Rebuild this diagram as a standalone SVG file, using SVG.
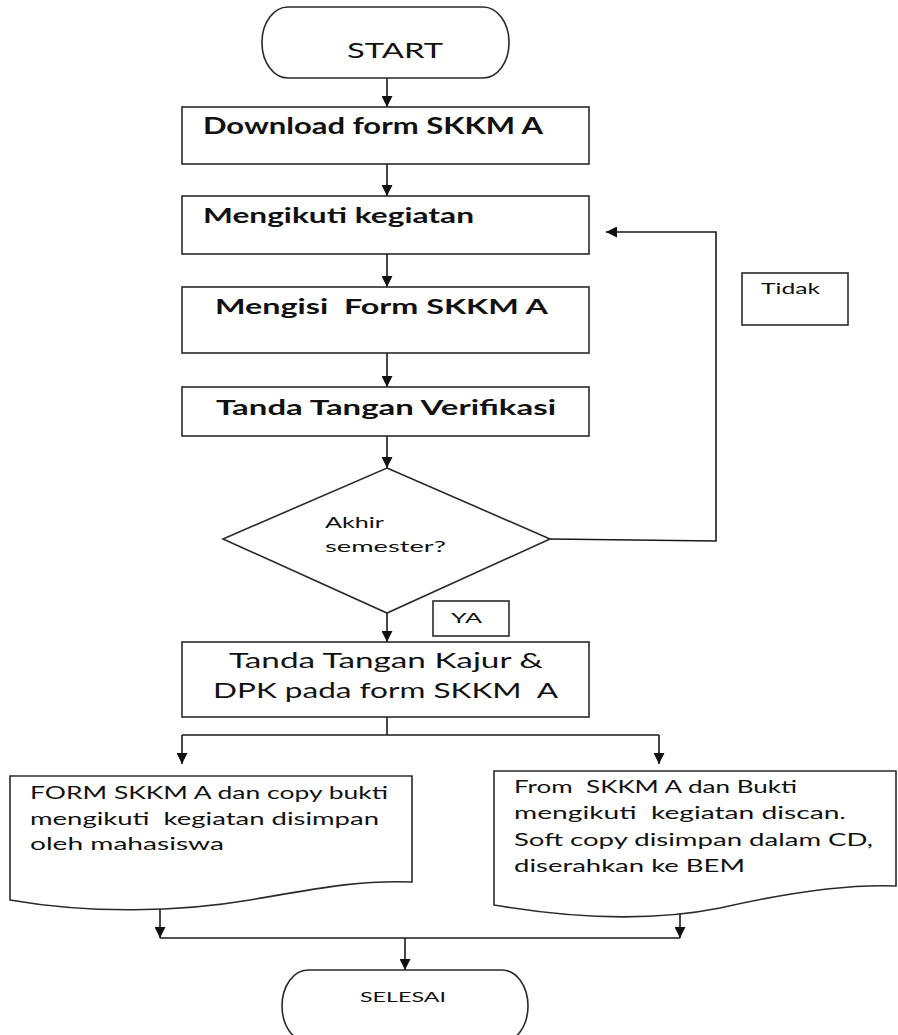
<svg xmlns="http://www.w3.org/2000/svg" width="898" height="1035" viewBox="0 0 898 1035">
<style>
.s{fill:#fff;stroke:#2a2a2a;stroke-width:1.6}
.c{fill:none;stroke:#1a1a1a;stroke-width:1.6}
.b{font-family:Lato,"Open Sans","Liberation Sans",sans-serif;font-weight:bold;fill:#111}
.r{font-family:Lato,"Open Sans","Liberation Sans",sans-serif;font-weight:normal;fill:#111}
</style>
<defs>
<marker id="ah" markerUnits="userSpaceOnUse" markerWidth="11" markerHeight="11" viewBox="0 0 10 10" refX="10" refY="5" orient="auto">
<path d="M0,0 L10,5 L0,10 Z" fill="#111"/>
</marker>
</defs>
<rect width="898" height="1035" fill="#fff"/>

<g id="connectors">
<line class="c" x1="387" y1="78" x2="387" y2="107" marker-end="url(#ah)"/>
<line class="c" x1="387" y1="164" x2="387" y2="196" marker-end="url(#ah)"/>
<line class="c" x1="387" y1="254" x2="387" y2="287" marker-end="url(#ah)"/>
<line class="c" x1="387" y1="353" x2="387" y2="387" marker-end="url(#ah)"/>
<line class="c" x1="387" y1="436" x2="387" y2="468" marker-end="url(#ah)"/>
<line class="c" x1="387" y1="613" x2="387" y2="642" marker-end="url(#ah)"/>
<polyline class="c" points="550,539 716,541 716,232 606,232" marker-end="url(#ah)"/>
<polyline class="c" points="387,717 387,735"/>
<polyline class="c" points="182,735 659,735"/>
<line class="c" x1="182" y1="735" x2="182" y2="764" marker-end="url(#ah)"/>
<line class="c" x1="659" y1="735" x2="659" y2="764" marker-end="url(#ah)"/>
<line class="c" x1="160" y1="908" x2="160" y2="938" marker-end="url(#ah)"/>
<line class="c" x1="680" y1="912" x2="680" y2="938" marker-end="url(#ah)"/>
<polyline class="c" points="160,938 680,938"/>
<line class="c" x1="405" y1="938" x2="405" y2="970" marker-end="url(#ah)"/>
</g>

<g id="start">
<rect class="s" x="262" y="7" width="247" height="71" rx="26" ry="35"/>
<text class="r" x="347" y="58" font-size="21" textLength="96" lengthAdjust="spacingAndGlyphs">START</text>
</g>

<g id="download">
<rect class="s" x="182" y="107" width="407" height="57"/>
<text class="b" x="203" y="134" font-size="23" textLength="340" lengthAdjust="spacingAndGlyphs">Download form SKKM A</text>
</g>

<g id="mengikuti">
<rect class="s" x="182" y="196" width="407" height="58"/>
<text class="b" x="203" y="223" font-size="20" textLength="271" lengthAdjust="spacingAndGlyphs">Mengikuti kegiatan</text>
</g>

<g id="mengisi">
<rect class="s" x="182" y="287" width="407" height="66"/>
<text class="b" x="215" y="314" font-size="20" textLength="333" lengthAdjust="spacingAndGlyphs" xml:space="preserve">Mengisi  Form SKKM A</text>
</g>

<g id="verifikasi">
<rect class="s" x="182" y="387" width="407" height="49"/>
<text class="b" x="216" y="415" font-size="20" textLength="340" lengthAdjust="spacingAndGlyphs">Tanda Tangan Verifikasi</text>
</g>

<g id="decision">
<polygon class="s" points="387,468 550,539 387,613 223,539"/>
<text class="r" x="325" y="528" font-size="16" textLength="59" lengthAdjust="spacingAndGlyphs">Akhir</text>
<text class="r" x="325" y="552" font-size="16" textLength="121" lengthAdjust="spacingAndGlyphs">semester?</text>
</g>

<g id="label-tidak">
<rect class="s" x="742" y="273" width="106" height="52"/>
<text class="r" x="761" y="294" font-size="15" textLength="59" lengthAdjust="spacingAndGlyphs">Tidak</text>
</g>

<g id="label-ya">
<rect class="s" x="433" y="601" width="76" height="35"/>
<text class="r" x="451" y="623" font-size="14" textLength="31" lengthAdjust="spacingAndGlyphs">YA</text>
</g>

<g id="kajur">
<rect class="s" x="182" y="642" width="407" height="75"/>
<text class="r" x="229" y="668" font-size="21" textLength="314" lengthAdjust="spacingAndGlyphs">Tanda Tangan Kajur &amp;</text>
<text class="r" x="213" y="698" font-size="21" textLength="345" lengthAdjust="spacingAndGlyphs" xml:space="preserve">DPK pada form SKKM  A</text>
</g>

<g id="doc-left">
<path class="s" d="M10,776 H412 V882 C360,880 320,888 250,900 C180,912 90,914 10,900 Z"/>
<text class="r" x="30" y="799" font-size="17" textLength="358" lengthAdjust="spacingAndGlyphs">FORM SKKM A dan copy bukti</text>
<text class="r" x="30" y="825" font-size="17" textLength="349" lengthAdjust="spacingAndGlyphs" xml:space="preserve">mengikuti  kegiatan disimpan</text>
<text class="r" x="30" y="850" font-size="17" textLength="194" lengthAdjust="spacingAndGlyphs">oleh mahasiswa</text>
</g>

<g id="doc-right">
<path class="s" d="M494,771 H896 V886 C850,884 790,892 720,908 C650,922 570,918 494,905 Z"/>
<text class="r" x="514" y="793" font-size="17" textLength="283" lengthAdjust="spacingAndGlyphs" xml:space="preserve">From  SKKM A dan Bukti</text>
<text class="r" x="514" y="819" font-size="17" textLength="332" lengthAdjust="spacingAndGlyphs" xml:space="preserve">mengikuti  kegiatan discan.</text>
<text class="r" x="514" y="846" font-size="17" textLength="359" lengthAdjust="spacingAndGlyphs">Soft copy disimpan dalam CD,</text>
<text class="r" x="514" y="872" font-size="17" textLength="231" lengthAdjust="spacingAndGlyphs">diserahkan ke BEM</text>
</g>

<g id="selesai">
<rect class="s" x="282" y="970" width="246" height="72" rx="26" ry="36"/>
<text class="r" x="360" y="1002" font-size="14" textLength="86" lengthAdjust="spacingAndGlyphs">SELESAI</text>
</g>
</svg>
